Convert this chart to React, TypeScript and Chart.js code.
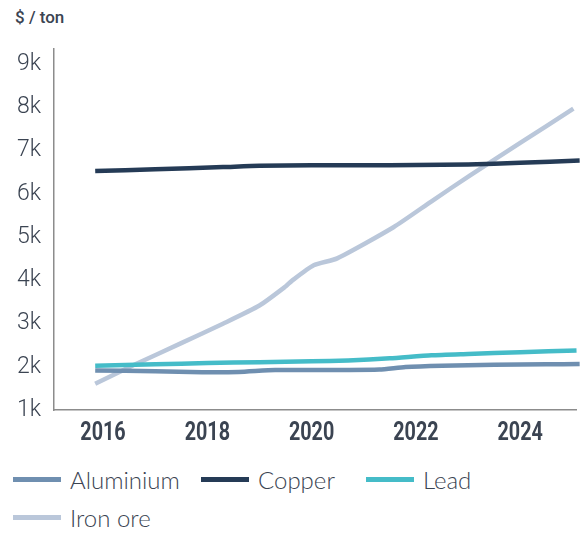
import React, { useEffect, useRef } from "react";
import { Chart, registerables } from "chart.js";

Chart.register(...registerables);

const yearTicks = [2016, 2018, 2020, 2022, 2024];
const valueTicks = [1, 2, 3, 4, 5, 6, 7, 8, 9];

const aluminiumX = [2015.85, 2017.0, 2017.9, 2018.6, 2019.3, 2020.5, 2021.3, 2021.8, 2022.5, 2023.5, 2024.5, 2025.14];
const aluminiumY = [1.92, 1.9, 1.88, 1.885, 1.93, 1.93, 1.94, 2.0, 2.03, 2.05, 2.06, 2.07];

const copperX = [2015.85, 2017.0, 2018.3, 2019.0, 2020.0, 2021.0, 2022.0, 2023.0, 2024.0, 2025.14];
const copperY = [6.53, 6.57, 6.62, 6.65, 6.66, 6.66, 6.67, 6.68, 6.72, 6.77];

const leadX = [2015.85, 2017.0, 2018.0, 2019.0, 2020.0, 2020.7, 2021.5, 2022.3, 2023.0, 2024.0, 2025.08];
const leadY = [2.03, 2.06, 2.09, 2.11, 2.13, 2.15, 2.2, 2.27, 2.3, 2.34, 2.38];

const ironX = [2015.85, 2016.6, 2017.5, 2018.3, 2019.0, 2019.5, 2019.62, 2020.04, 2020.49, 2021.57, 2022.3, 2023.04, 2024.0, 2025.02];
const ironY = [1.61, 2.05, 2.55, 3.0, 3.42, 3.86, 3.99, 4.35, 4.51, 5.23, 5.83, 6.43, 7.18, 7.97];

const seriesNames = ["Aluminium", "Copper", "Lead", "Iron ore"];
const seriesColors = ["#6f8fb0", "#253b56", "#45bcc8", "#bac7da"];

const toPoints = (xs: number[], ys: number[]) => xs.map((x, i) => ({ x, y: ys[i] }));

const TEXT = "#3b4452";

// Draws the x tick labels horizontally condensed (narrow bold face look)
const condensedXLabels = {
  id: "condensedXLabels",
  afterDraw(chart: any) {
    const scale = chart.scales.x;
    const ctx = chart.ctx;
    ctx.save();
    ctx.fillStyle = TEXT;
    ctx.font = "bold 25px Roboto, sans-serif";
    ctx.textAlign = "center";
    ctx.textBaseline = "middle";
    const y = scale.top + 9 + 14.4;
    scale.ticks.forEach((t: any) => {
      const x = scale.getPixelForValue(t.value);
      ctx.save();
      ctx.translate(x, y);
      ctx.scale(0.79, 1);
      ctx.fillText(String(t.value), 0, 0);
      ctx.restore();
    });
    ctx.restore();
  },
};

export default function App() {
  const ref = useRef<HTMLCanvasElement | null>(null);

  useEffect(() => {
    if (!ref.current) return;
    const xsAll = [aluminiumX, copperX, leadX, ironX];
    const ysAll = [aluminiumY, copperY, leadY, ironY];
    const chart = new Chart(ref.current, {
      type: "line",
      data: {
        datasets: seriesNames.map((name, i) => ({
          label: name,
          data: toPoints(xsAll[i], ysAll[i]),
          borderColor: seriesColors[i],
          backgroundColor: seriesColors[i],
          borderWidth: 4.5,
          pointRadius: 0,
          tension: 0.2,
          clip: false as any,
        })),
      },
      plugins: [condensedXLabels],
      options: {
        animation: false,
        responsive: false,
        maintainAspectRatio: false,
        layout: { padding: { top: 49, right: 5, left: 0, bottom: 0 } },
        plugins: {
          legend: { display: false },
          tooltip: { enabled: false },
        },
        scales: {
          x: {
            type: "linear",
            min: 2015.06,
            max: 2025.07,
            afterBuildTicks: (scale: any) => {
              scale.ticks = yearTicks.map((v) => ({ value: v }));
            },
            grid: { display: false, drawTicks: false },
            border: { display: true, color: "#8c8c8c", width: 1.5 },
            ticks: {
              padding: 9,
              color: "rgba(0,0,0,0)",
              font: { family: "Roboto", size: 24, weight: "bold" },
              callback: (v: any) => String(v),
              maxRotation: 0,
              autoSkip: false,
            },
          },
          y: {
            type: "linear",
            min: 1,
            max: 9.35,
            afterBuildTicks: (scale: any) => {
              scale.ticks = valueTicks.map((v) => ({ value: v }));
            },
            afterFit: (scale: any) => {
              scale.width = 54;
            },
            grid: { display: false, drawTicks: false },
            border: { display: true, color: "#8c8c8c", width: 1.5 },
            ticks: {
              padding: 13,
              color: TEXT,
              font: { family: "Roboto", size: 23, weight: 300 as any },
              callback: (v: any) => v + "k",
            },
          },
        },
      },
    });
    return () => chart.destroy();
  }, []);

  const legendItems = [
    { i: 0, left: 13, top: 464 },
    { i: 1, left: 201, top: 464 },
    { i: 2, left: 366, top: 464 },
    { i: 3, left: 13, top: 502 },
  ];

  return (
    <div style={{ position: "absolute", left: 0, top: 0, width: 581, height: 534, background: "#fff", overflow: "hidden" }}>
      <div
        style={{
          position: "absolute",
          left: 15,
          top: 6,
          fontFamily: "Roboto, sans-serif",
          fontWeight: 500,
          fontSize: 17,
          color: TEXT,
          lineHeight: "22px",
          whiteSpace: "nowrap",
        }}
      >
        $ / ton
      </div>
      <canvas ref={ref} width={581} height={457} style={{ position: "absolute", left: 0, top: 0, width: 581, height: 457 }} />
      {legendItems.map(({ i, left, top }) => (
        <div
          key={i}
          style={{ position: "absolute", left, top, height: 30, display: "flex", alignItems: "center", whiteSpace: "nowrap" }}
        >
          <span style={{ display: "inline-block", width: 48, height: 5, background: seriesColors[i], marginRight: 9 }} />
          <span style={{ fontFamily: "Lato, Roboto, sans-serif", fontWeight: 300, fontSize: 24, color: TEXT }}>{seriesNames[i]}</span>
        </div>
      ))}
    </div>
  );
}
